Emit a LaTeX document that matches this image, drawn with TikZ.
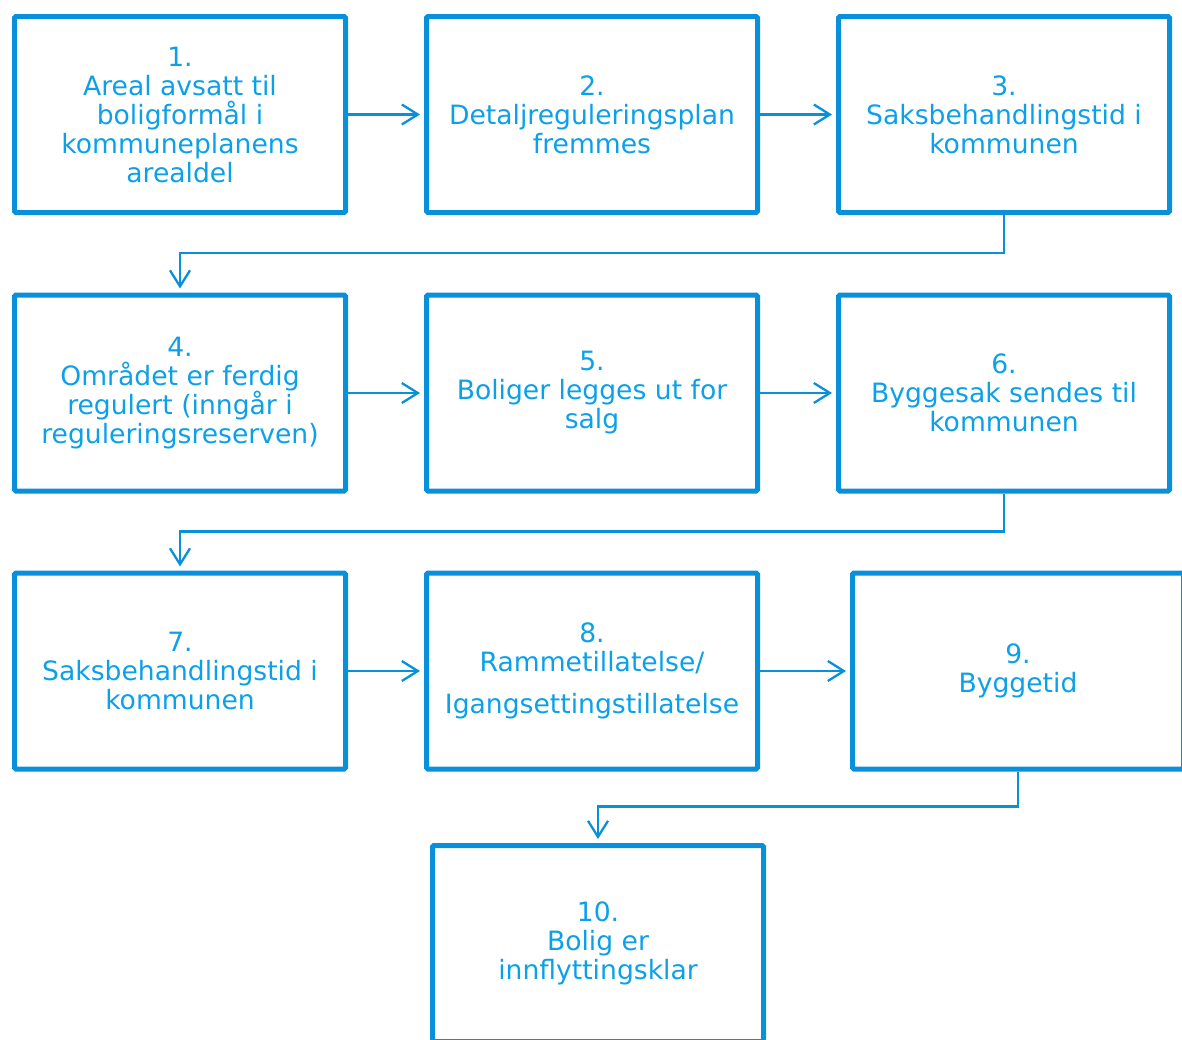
\documentclass[tikz,border=0pt]{standalone}
\usepackage{fontspec}
\setmainfont{DejaVu Sans}
\usetikzlibrary{arrows.meta}
\definecolor{bord}{HTML}{0891DA}
\definecolor{txt}{HTML}{0BA0E8}
\begin{document}
\begin{tikzpicture}[x=1pt,y=-1pt,
 stepbox/.style={draw=bord, line width=5pt, rounded corners=1.5pt, minimum width=331pt, minimum height=196pt, inner sep=0pt, text=txt, font=\fontsize{26.6}{29}\selectfont, align=center},
 conn/.style={draw=bord, line width=2.3pt, -{Straight Barb[length=16pt,width=20pt,line width=2.3pt]}, shorten >=4pt}]
\useasboundingbox (0,0) rectangle (1182,1039);
\clip (0,0) rectangle (1182,1039);
\node[stepbox] (b1) at (180,114.5) {1.\\Areal avsatt til\\boligformål i\\kommuneplanens\\arealdel};
\node[stepbox] (b2) at (592,114.5) {2.\\Detaljreguleringsplan\\fremmes};
\node[stepbox] (b3) at (1004,114.5) {3.\\Saksbehandlingstid i\\kommunen};
\node[stepbox] (b4) at (180,393) {4.\\Området er ferdig\\regulert (inngår i\\reguleringsreserven)};
\node[stepbox] (b5) at (592,393) {5.\\Boliger legges ut for\\salg};
\node[stepbox] (b6) at (1004,393) {6.\\Byggesak sendes til\\kommunen};
\node[stepbox] (b7) at (180,671) {7.\\Saksbehandlingstid i\\kommunen};
\node[stepbox] (b8) at (592,671) {8.\\Rammetillatelse/\\[13pt]Igangsettingstillatelse};
\node[stepbox] (b9) at (1018,671) {9.\\Byggetid};
\node[stepbox] (b10) at (598,943.5) {10.\\Bolig er\\innflyttingsklar};
\draw[conn] (b1) -- (b2);
\draw[conn] (b2) -- (b3);
\draw[conn] (b3.south) -- ++(0,38) -| (b4.north);
\draw[conn] (b4) -- (b5);
\draw[conn] (b5) -- (b6);
\draw[conn] (b6.south) -- ++(0,38) -| (b7.north);
\draw[conn] (b7) -- (b8);
\draw[conn] (b8) -- (b9);
\draw[conn] (b9.south) -- ++(0,35) -| (b10.north);
\end{tikzpicture}
\end{document}
